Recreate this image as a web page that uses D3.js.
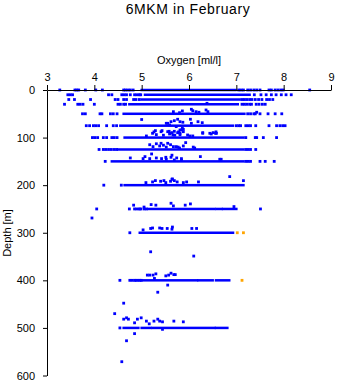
<!DOCTYPE html>
<html><head><meta charset="utf-8">
<script src="https://cdn.jsdelivr.net/npm/d3@7"></script>
<style>
html,body{margin:0;padding:0;background:#fff;}
svg{display:block;font-family:"Liberation Sans",Arial,sans-serif;}
</style></head>
<body>
<svg id="chart" width="338" height="384"></svg>
<script>
const xTicks = [3,4,5,6,7,8,9];
const yTicks = [0,100,200,300,400,500,600];

// standard depths with individually visible points
const stdDepths = [0,10,20,30,50,75,100,125,150,200,250,300,400,500];
const stdOxygen = [
  [3.27,3.59,3.63,3.67,3.81,4.03,4.17,4.62,4.66,4.71,4.76,4.82,7.05,7.1,7.15,7.24,7.3,7.37,7.43,7.5,7.69,7.74,7.82,7.88,7.94,7.99,8.55],
  [3.44,3.49,3.54,4.30,4.37,4.58,4.63,4.68,4.76,4.85,4.9,4.95,4.98,7.38,7.52,7.63,7.74,7.84,7.95,8.05,8.16],
  [3.46,3.58,3.92,4.44,4.5,4.62,4.68,4.83,4.88,4.95,7.12,7.17,7.22,7.28,7.33,7.4,7.47,7.54,7.64,7.7,7.77],
  [3.37,3.65,3.7,3.76,4.0,4.5,4.55,4.62,4.66,7.12,7.17,7.22,7.28,7.32,7.42,7.48,7.55,7.61],
  [3.75,3.81,4.12,4.16,4.34,4.4,4.48,7.24,7.3,7.37,7.4,7.5,7.67,7.82,7.96],
  [3.83,3.9,3.98,4.03,4.09,4.26,4.4,4.47,7.0,7.05,7.09,7.2,7.25,7.3,7.41,7.69,7.85,7.92,7.98,8.03],
  [3.96,4.01,4.07,4.19,4.26,4.37,4.42,4.48,7.2,7.4,7.43,7.57,7.85],
  [4.1,4.19,4.24,4.3,4.36,4.42,4.47,7.2,7.25,7.3,7.41],
  [4.23,7.2,7.25,7.3,7.5,7.61,7.8],
  [4.2,4.57],
  [4.05,4.74,4.85,4.9,4.95,4.98,5.05,5.1,7.51],
  [4.75],
  [4.54,4.75,4.8,4.85,4.88,4.92,4.96,4.99],
  [4.54]
];

// dense runs of overlapping samples: [depth, from, to]
const denseRuns = [
  [0,5.0,6.98],[10,5.07,7.28],[20,5.0,7.07],[30,4.74,7.03],[50,4.62,7.17],
  [75,4.55,6.93],[100,4.64,7.15],[125,4.5,7.15],[150,4.37,7.15],[200,4.64,7.15],
  [250,5.14,6.54],[250,6.58,6.69],[250,6.72,7.0],[300,4.96,6.93],
  [400,5.02,6.17],[400,6.2,6.5],[400,6.57,6.85],
  [500,4.62,4.93],[500,5.0,5.19],[500,5.23,6.54],[500,6.57,6.81]
];

// off-standard samples: [depth, oxygen]
const scatterPoints = [
  [28,6.38],
  [45.6,5.67],[47.7,5.80],[44,5.86],[40.5,6.05],[43.5,6.08],[45.6,6.15],[46.8,6.21],[42,6.36],[45.6,6.40],[46.8,7.43],
  [62,5.0],
  [70,5.55],[66.6,5.62],[64.5,5.69],[61.5,5.76],[66.6,5.81],[67.8,5.87],[61.5,6.03],[70,6.05],[66.6,6.19],[68.7,6.28],[70,5.52],[73.5,5.59],[77,5.73],
  [88,5.26],[85.4,5.29],[85.4,5.43],[86.8,5.58],[89.6,5.64],[86.8,5.69],[88,5.78],[84,5.84],[82.6,5.88],[91,5.81],[89.6,6.29],[89.6,6.51],[88,6.57],
  [87.6,5.41],[87.6,5.55],[91,5.60],[94.5,5.66],[89.7,5.76],[84,5.81],[80.4,5.86],[87.6,5.88],[94.5,5.97],[96.6,6.08],[91,6.29],[92.4,6.47],[91,6.56],
  [96.6,5.10],[91,5.23],[93.8,5.31],[95,5.46],[92.4,5.59],[95,5.70],[93.8,5.81],[96.6,6.02],[91,6.44],[91,6.58],
  [115,5.17],[119,5.24],[113,5.31],[117.6,5.38],[116,5.46],[120,5.52],[115,5.61],[119,5.67],[120,5.77],[117.6,5.88],[110.6,5.93],[120,6.09],[112,5.41],[112,5.55],[119,5.73],[122,5.80],[122,6.12],
  [142.8,4.76],[144.2,5.03],[140,5.07],[144.2,5.17],[134.4,5.21],[142.8,5.31],[144.2,5.42],[141.4,5.51],[137,5.64],[142.8,5.74],[144.2,5.84],[140,6.24],[145.6,6.65],[145.6,5.52],[141.4,5.62],[147,5.69],[147,5.84],[145.6,6.68],
  [182,6.86],[187,5.65],[190.5,7.15],
  [194.6,5.09],[193.2,5.23],[190.4,5.29],[191.8,5.40],[190.4,5.47],[194.6,5.51],[191.8,5.61],[187.5,5.64],[190.4,5.69],[193.2,5.75],[194.6,5.88],[193.2,5.95],[193.2,6.20],
  [242,4.83],[246,5.05],[240.8,5.20],[242,5.30],[238,5.62],[243.6,5.67],[242,5.92],[239.4,6.03],[245,6.95],
  [269,3.95],
  [294,5.03],[291,5.19],[290,5.23],[290,5.38],[291,5.43],[291,5.54],[288,5.65],[292.5,5.64],[291,6.06],[291,6.16],
  [340,5.19],[349,6.10],
  [389,5.12],[389,5.17],[389,5.24],[386.4,5.30],[390.6,5.51],[389,5.57],[385,5.62],[388,5.68],[388,5.71],
  [396,5.27],[410,5.55],[425,5.34],[448,4.62],[470,4.43],
  [481.6,4.62],[478.8,4.68],[481.6,4.72],[481.6,4.91],[478.8,4.99],[485.7,5.10],[491.4,5.16],[485.7,5.26],[481.6,5.34],[485.7,5.38],[487.2,5.44],[485.7,5.68],[487.2,5.88],[489.3,4.85],
  [503,5.44],[512,4.85],[527,4.68],[571,4.58]
];

// flagged samples (orange)
const flaggedPoints = [[300,7.02],[300,7.15],[400,7.12]];

const blue = "#0000ff", orange = "#ffa500";
const svg = d3.select("#chart");
const x = d3.scaleLinear().domain([3,9]).range([47,331]);
const y = d3.scaleLinear().domain([0,600]).range([90,375.5]);
const S = 2.8, R = 2.5;

const marks = svg.append("g");
marks.selectAll("rect.run").data(denseRuns).join("rect")
  .attr("x", d => x(d[1]) - R/2).attr("y", d => y(d[0]) - R/2)
  .attr("width", d => x(d[2]) - x(d[1]) + R).attr("height", R).attr("fill", blue);

const stdPts = stdDepths.flatMap((dep, i) => stdOxygen[i].map(o => [dep, o]));
marks.selectAll("rect.pt").data(stdPts.concat(scatterPoints)).join("rect")
  .attr("x", d => x(d[1]) - S/2).attr("y", d => y(d[0]) - S/2)
  .attr("width", S).attr("height", S).attr("fill", blue);
marks.selectAll("rect.fl").data(flaggedPoints).join("rect")
  .attr("x", d => x(d[1]) - S/2).attr("y", d => y(d[0]) - S/2)
  .attr("width", S).attr("height", S).attr("fill", orange);

const xAxis = svg.append("g").attr("transform","translate(0,90)")
  .call(d3.axisTop(x).tickValues(xTicks).tickFormat(d3.format("d")).tickSize(5).tickSizeOuter(0).tickPadding(4));
const yAxis = svg.append("g").attr("transform","translate(47,0)")
  .call(d3.axisLeft(y).tickValues(yTicks).tickFormat(d3.format("d")).tickSize(4).tickSizeOuter(0).tickPadding(8));
[xAxis,yAxis].forEach(g => {
  g.selectAll("text").attr("font-size",11).attr("font-family","Liberation Sans, Arial, sans-serif").attr("fill","#000");
  g.selectAll("line,path").attr("stroke","#000");
});

svg.append("text").attr("x",188).attr("y",14).attr("text-anchor","middle")
  .attr("font-size",14).attr("letter-spacing",0.6).text("6MKM in February");
svg.append("text").attr("x",189).attr("y",64).attr("text-anchor","middle")
  .attr("font-size",11).text("Oxygen [ml/l]");
svg.append("text").attr("transform","translate(11,233) rotate(-90)").attr("text-anchor","middle")
  .attr("font-size",11).text("Depth [m]");
</script>
</body></html>
